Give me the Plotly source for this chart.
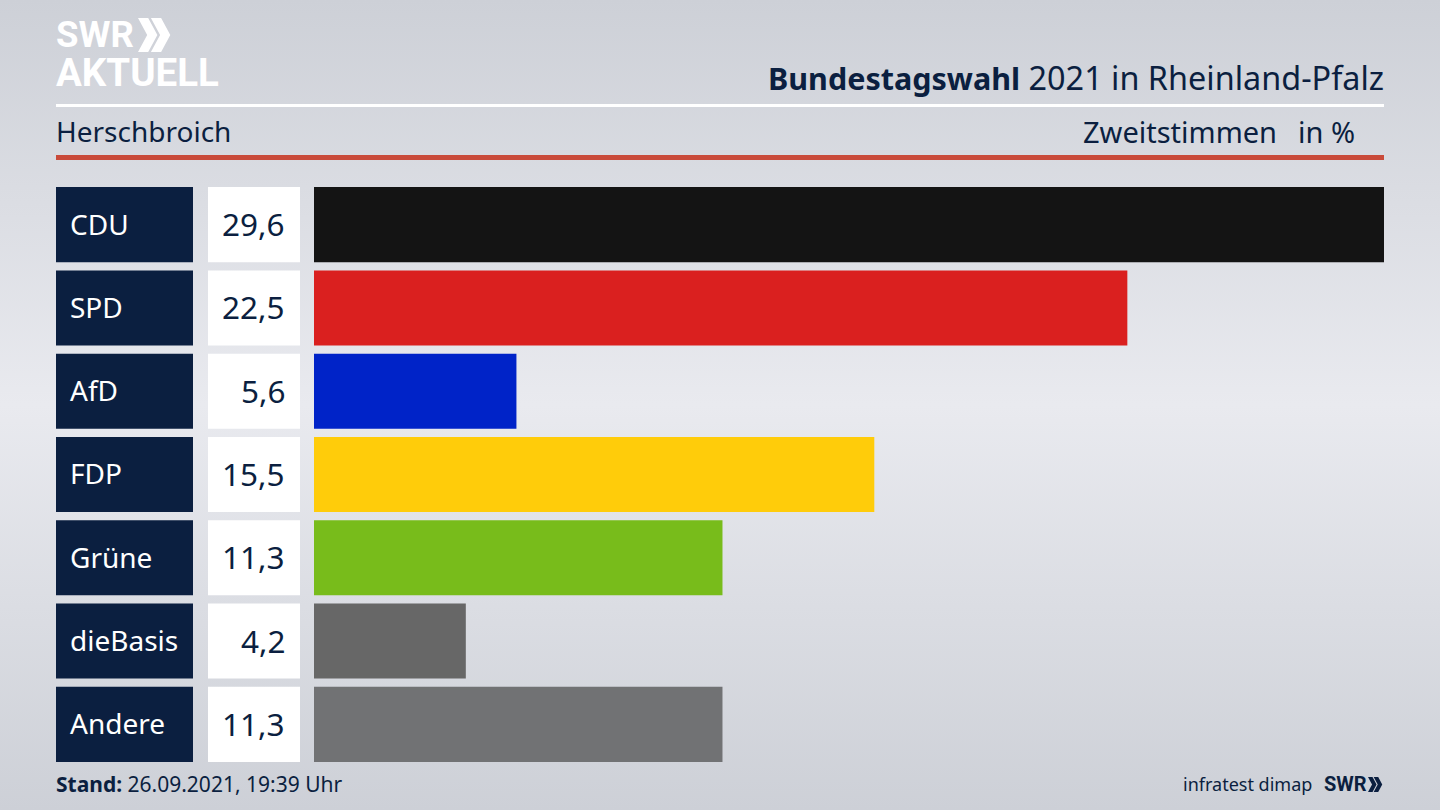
import base64

import plotly.graph_objects as go

W, H = 1440, 810
FONT = "Noto Sans"
LOGO_FONT = "Roboto"
NAVY = "#0b1f40"

parties = ["CDU", "SPD", "AfD", "FDP", "Grüne", "dieBasis", "Andere"]
shares = [29.6, 22.5, 5.6, 15.5, 11.3, 4.2, 11.3]
share_labels = ["29,6", "22,5", "5,6", "15,5", "11,3", "4,2", "11,3"]
party_colors = ["#141414", "#da201f", "#0023c8", "#ffcc0a", "#78bc1b", "#676767", "#717274"]


def px(x):
    return x / W


def py(y):
    return 1 - y / H


def text(s, x, y, size, color=NAVY, anchor="left", family=FONT):
    return dict(
        text=s, x=px(x), y=py(y), xref="paper", yref="paper", showarrow=False,
        xanchor=anchor, yanchor="middle", align=anchor,
        font=dict(family=family, size=size, color=color),
    )


def chevrons(x, y, h, color):
    # the two arrows of the SWR logo
    w = h * 0.27
    t = h * 0.3
    gap = h * 0.38
    out = []
    for off in (0, gap):
        x0 = x + off
        path = (
            f"M {px(x0)} {py(y)} L {px(x0 + t)} {py(y)} L {px(x0 + t + w)} {py(y + h / 2)} "
            f"L {px(x0 + t)} {py(y + h)} L {px(x0)} {py(y + h)} L {px(x0 + w)} {py(y + h / 2)} Z"
        )
        out.append(dict(type="path", path=path, xref="paper", yref="paper",
                        fillcolor=color, line_width=0, layer="above"))
    return out


# page background, lighter in the middle
svg = (
    f'<svg xmlns="http://www.w3.org/2000/svg" width="{W}" height="{H}">'
    '<defs><linearGradient id="g" x1="0" y1="0" x2="0" y2="1">'
    '<stop offset="0" stop-color="#cdd0d7"/><stop offset="0.5" stop-color="#e9eaef"/>'
    '<stop offset="1" stop-color="#cdd0d7"/></linearGradient></defs>'
    f'<rect width="{W}" height="{H}" fill="url(#g)"/></svg>'
)
bg = "data:image/svg+xml;base64," + base64.b64encode(svg.encode()).decode()

fig = go.Figure()
fig.add_bar(x=shares, y=parties, orientation="h", marker=dict(color=party_colors, line_width=0),
            xaxis="x", yaxis="y", hoverinfo="skip")
fig.add_bar(x=[1] * len(parties), y=parties, orientation="h", marker=dict(color=NAVY, line_width=0),
            xaxis="x2", yaxis="y", hoverinfo="skip")
fig.add_bar(x=[1] * len(parties), y=parties, orientation="h", marker=dict(color="white", line_width=0),
            xaxis="x3", yaxis="y", hoverinfo="skip")

annotations = [
    text('<b style="font-size:30.5px">Bundestagswahl</b> 2021 in Rheinland-Pfalz', 1386, 77, 32.4, anchor="right"),
    text("Herschbroich", 54, 131, 28),
    text("Zweitstimmen", 1279, 131, 29, anchor="right"),
    text("in %", 1357, 131, 29, anchor="right"),
    text("<b>Stand:</b> 26.09.2021, 19:39 Uhr", 54, 784, 21),
    text("infratest dimap", 1314, 784, 18, anchor="right"),
    text("<b>SWR</b>", 1322, 784, 20, family=LOGO_FONT),
    text("<b>SWR</b>", 54, 35, 36.5, color="white", family=LOGO_FONT),
    text("<b>AKTUELL</b>", 54, 72, 38.5, color="white", family=LOGO_FONT),
]
for party, label in zip(parties, share_labels):
    annotations.append(dict(text=party, x=px(68), y=party, xref="paper", yref="y", showarrow=False,
                            xanchor="left", yshift=1, font=dict(family=FONT, size=28, color="white")))
    annotations.append(dict(text=label, x=px(287), y=party, xref="paper", yref="y", showarrow=False,
                            xanchor="right", yshift=1, font=dict(family=FONT, size=31.5, color=NAVY)))

shapes = [
    dict(type="rect", x0=px(56), x1=px(1384), y0=py(104), y1=py(107), xref="paper", yref="paper",
         fillcolor="white", line_width=0),
    dict(type="rect", x0=px(56), x1=px(1384), y0=py(155), y1=py(160), xref="paper", yref="paper",
         fillcolor="#c94a3a", line_width=0),
]
shapes += chevrons(138, 18, 34, "white")
shapes += chevrons(1368, 777, 15, NAVY)

hidden = dict(visible=False, fixedrange=True)
fig.update_layout(
    width=W, height=H, margin=dict(l=0, r=0, t=0, b=0), showlegend=False,
    barmode="overlay", bargap=0.099, paper_bgcolor="#dfe1e6", plot_bgcolor="rgba(0,0,0,0)",
    font=dict(family=FONT, color=NAVY),
    xaxis=dict(domain=[px(314), px(1384)], range=[0, shares[0]], anchor="y", **hidden),
    xaxis2=dict(domain=[px(56), px(193)], range=[0, 1], anchor="y", **hidden),
    xaxis3=dict(domain=[px(208), px(300)], range=[0, 1], anchor="y", **hidden),
    yaxis=dict(domain=[py(766), py(183)], categoryorder="array", categoryarray=parties,
               autorange="reversed", **hidden),
    images=[dict(source=bg, xref="paper", yref="paper", x=0, y=1, sizex=1, sizey=1,
                 sizing="stretch", xanchor="left", yanchor="top", layer="below")],
    annotations=annotations, shapes=shapes,
)

fig.write_html("out.html", config=dict(displayModeBar=False),
               post_script="document.body.style.margin='0';document.body.style.overflow='hidden';")
